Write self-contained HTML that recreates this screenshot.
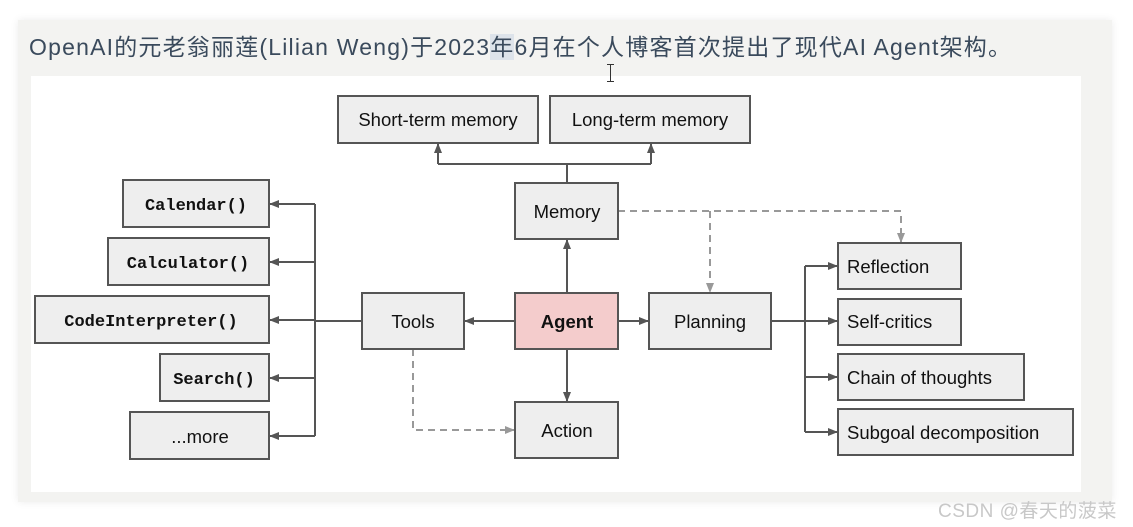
<!DOCTYPE html>
<html><head><meta charset="utf-8"><style>
body{margin:0;background:#fff;width:1133px;height:527px;overflow:hidden;position:relative;font-family:"Liberation Sans",sans-serif}
.panel{position:absolute;left:18px;top:20px;width:1094px;height:482px;background:#f3f3f1;box-shadow:0 0 8px rgba(0,0,0,0.08)}
.title{position:absolute;left:29px;top:28px;font-size:23px;color:#3a4a5c;font-family:"Liberation Sans","Noto Sans CJK SC",sans-serif;white-space:nowrap;letter-spacing:1.2px}
.wm{position:absolute;left:938px;top:496px;font-size:19px;color:#c8c8c8;font-family:"Liberation Sans","Noto Sans CJK SC",sans-serif;letter-spacing:0.5px}
svg{position:absolute;left:0;top:0}
</style></head><body>
<div class="panel"></div>
<div class="title">OpenAI的元老翁丽莲(Lilian Weng)于2023<span style="background:#dde3ea">年</span>6月在个人博客首次提出了现代AI Agent架构。</div>
<svg width="1133" height="527" viewBox="0 0 1133 527">
<defs>
<marker id="a" markerWidth="10" markerHeight="10" refX="9" refY="5" orient="auto" markerUnits="userSpaceOnUse"><path d="M0,1 L10,5 L0,9 z" fill="#555"/></marker>
<marker id="g" markerWidth="10" markerHeight="10" refX="9" refY="5" orient="auto" markerUnits="userSpaceOnUse"><path d="M0,1 L10,5 L0,9 z" fill="#999"/></marker>
</defs>
<rect x="31" y="76" width="1050" height="416" fill="#fff"/>
<g stroke="#555" stroke-width="2" fill="none">
<path d="M567,183 V164 M438,164 H651"/>
<path d="M438,164 V144" marker-end="url(#a)"/>
<path d="M651,164 V144" marker-end="url(#a)"/>
<path d="M567,293 V240" marker-end="url(#a)"/>
<path d="M515,321 H465" marker-end="url(#a)"/>
<path d="M618,321 H648" marker-end="url(#a)"/>
<path d="M567,349 V401" marker-end="url(#a)"/>
<path d="M362,321 H315 M315,204 V436"/>
<path d="M315,204 H270" marker-end="url(#a)"/>
<path d="M315,262 H270" marker-end="url(#a)"/>
<path d="M315,320 H270" marker-end="url(#a)"/>
<path d="M315,378 H270" marker-end="url(#a)"/>
<path d="M315,436 H270" marker-end="url(#a)"/>
<path d="M771,321 H805 M805,266 V432"/>
<path d="M805,266 H837" marker-end="url(#a)"/>
<path d="M805,321 H837" marker-end="url(#a)"/>
<path d="M805,377 H837" marker-end="url(#a)"/>
<path d="M805,432 H837" marker-end="url(#a)"/>
</g>
<g stroke="#999" stroke-width="2" fill="none" stroke-dasharray="7,5">
<path d="M618,211 H901 V242" marker-end="url(#g)"/>
<path d="M710,211 V292" marker-end="url(#g)"/>
<path d="M413,349 V430 H514" marker-end="url(#g)"/>
</g>
<g stroke="#555" stroke-width="2" fill="#eee">
<rect x="338" y="96" width="200" height="47"/>
<rect x="550" y="96" width="200" height="47"/>
<rect x="515" y="183" width="103" height="56"/>
<rect x="515" y="293" width="103" height="56" fill="#f4cccc"/>
<rect x="362" y="293" width="102" height="56"/>
<rect x="649" y="293" width="122" height="56"/>
<rect x="515" y="402" width="103" height="56"/>
<rect x="123" y="180" width="146" height="47"/>
<rect x="108" y="238" width="161" height="47"/>
<rect x="35" y="296" width="234" height="47"/>
<rect x="160" y="354" width="109" height="47"/>
<rect x="130" y="412" width="139" height="47"/>
<rect x="838" y="243" width="123" height="46"/>
<rect x="838" y="299" width="123" height="46"/>
<rect x="838" y="354" width="186" height="46"/>
<rect x="838" y="409" width="235" height="46"/>
</g>
<g font-family="Liberation Sans, sans-serif" font-size="18.5" fill="#111" text-anchor="middle">
<text x="438" y="126">Short-term memory</text>
<text x="650" y="126">Long-term memory</text>
<text x="567" y="218">Memory</text>
<text x="567" y="328" font-weight="bold">Agent</text>
<text x="413" y="328">Tools</text>
<text x="710" y="328">Planning</text>
<text x="567" y="437">Action</text>
<text x="200" y="443">...more</text>
<g text-anchor="start">
<text x="847" y="273">Reflection</text>
<text x="847" y="328">Self-critics</text>
<text x="847" y="384">Chain of thoughts</text>
<text x="847" y="439">Subgoal decomposition</text>
</g>
<g font-family="Liberation Mono, monospace" font-weight="bold" font-size="17">
<text x="196" y="210">Calendar()</text>
<text x="188" y="268">Calculator()</text>
<text x="151" y="326">CodeInterpreter()</text>
<text x="214" y="384">Search()</text>
</g>
</g>
</svg>
<div style="position:absolute;left:610px;top:64px;width:1px;height:18px;background:#333"></div>
<div style="position:absolute;left:607px;top:64px;width:7px;height:1px;background:#333"></div>
<div style="position:absolute;left:607px;top:81px;width:7px;height:1px;background:#333"></div>
<div class="wm">CSDN @春天的菠菜</div>
</body></html>
